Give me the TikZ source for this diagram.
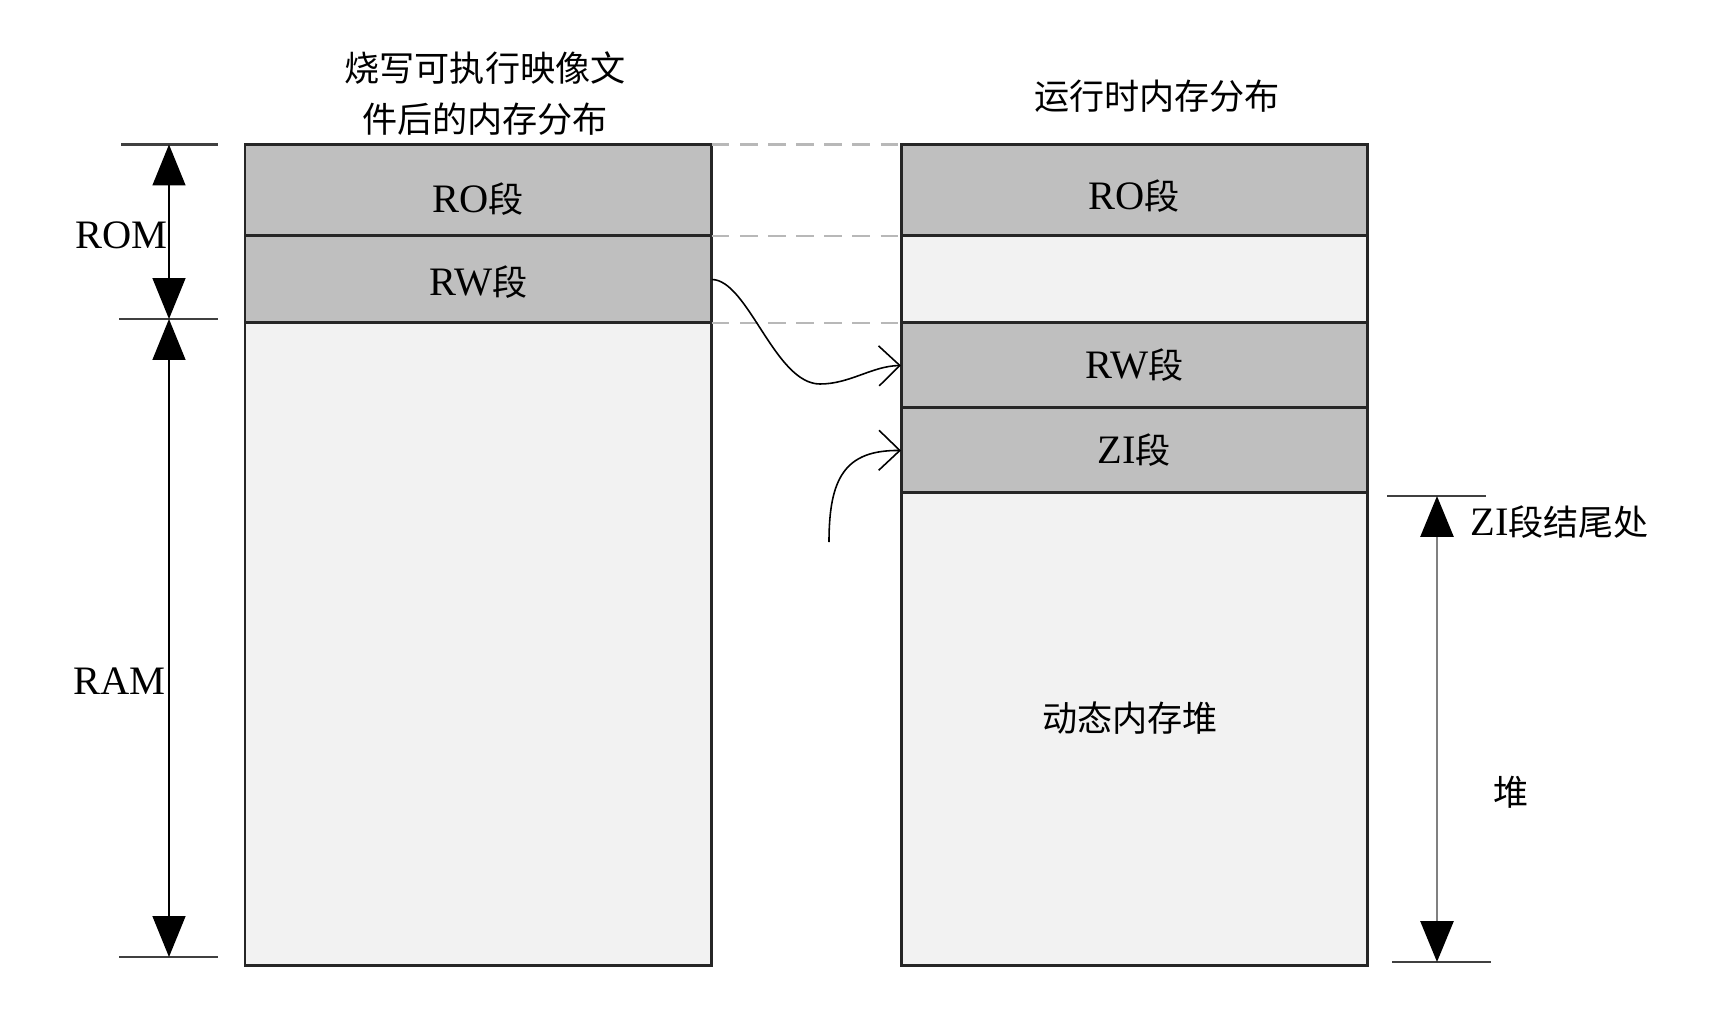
\documentclass[tikz,border=0pt]{standalone}
\usepackage{fontspec}
\setmainfont{Liberation Serif}
\newfontfamily\cjk{Noto Sans CJK SC}
\usetikzlibrary{arrows.meta}
\newcommand{\latinsz}{\fontsize{23}{26}\selectfont}
\newcommand{\cjksz}{\cjk\fontsize{20}{24}\selectfont}
\newcommand{\segtxt}[1]{{\latinsz #1}{\cjksz 段}}
\newcommand{\lowered}[2]{\raisebox{-#1}[\height][\depth]{#2}}
\begin{document}
\begin{tikzpicture}[x=0.02cm,y=-0.02cm,
  seg/.style={draw=black!85, line width=1.7pt, inner sep=0pt, outer sep=0pt,
    anchor=north west, minimum width=9.34cm},
  darkseg/.style={seg, fill=black!25},
  lightseg/.style={seg, fill=black!5},
  dashline/.style={draw=black!28, dashed, dash pattern=on 10pt off 6pt, line width=1.2pt},
  tickline/.style={draw=black!75, line width=1.6pt},
  dimarrow/.style={line width=0.9pt, {Triangle[length=0.82cm,width=0.66cm,black]}-{Triangle[length=0.82cm,width=0.66cm,black]}},
  curvearrow/.style={line width=0.9pt, -{Straight Barb[length=0.42cm,width=0.8cm]}},
  cjktext/.style={font=\cjksz, inner sep=0pt},
  latintext/.style={font=\latinsz, inner sep=0pt}
]
\useasboundingbox (0,0) rectangle (1729,1034);

% left column
\node[darkseg, minimum height=1.83cm] (lro) at (245,144.5) {\lowered{0.17cm}{\segtxt{RO}}};
\node[darkseg, minimum height=1.74cm] (lrw) at (245,236) {\lowered{0.05cm}{\segtxt{RW}}};
\node[lightseg, minimum height=12.86cm] (lram) at (245,323) {};

% right column
\node[darkseg, minimum height=1.83cm] (rro) at (901,144.5) {\lowered{0.11cm}{\segtxt{RO}}};
\node[lightseg, minimum height=1.74cm] (rgap) at (901,236) {};
\node[darkseg, minimum height=1.70cm] (rrw) at (901,323) {\segtxt{RW}};
\node[darkseg, minimum height=1.70cm] (rzi) at (901,408) {\segtxt{ZI}};
\node[lightseg, minimum height=9.46cm] (rheap) at (901,493) {};
\node[cjktext] (heaplbl) at (1130,718) {动态内存堆};

% titles
\node[cjktext] (title1a) at (485,68) {烧写可执行映像文};
\node[cjktext] (title1b) at (485,119) {件后的内存分布};
\node[cjktext] (title2) at (1157,96) {运行时内存分布};

% dashed guides
\draw[dashline] (lro.north east) -- (rro.north west);
\draw[dashline] (lrw.north east) -- (rgap.north west);
\draw[dashline] (lram.north east) -- (rrw.north west);

% curved arrows
\draw[curvearrow] (lrw.east) .. controls (748,280) and (775,384) .. (820,384)
  .. controls (850,384) and (872,366) .. (rrw.west);
\coordinate (zisrc) at (829,542);
\draw[curvearrow] (zisrc) .. controls (829,478) and (845,450) .. (rzi.west);

% left dimension
\coordinate (lt1a) at (121,144.5); \coordinate (lt1b) at (218,144.5);
\coordinate (lt2a) at (119,319);   \coordinate (lt2b) at (218,319);
\coordinate (lt3a) at (119,957);   \coordinate (lt3b) at (218,957);
\draw[tickline] (lt1a) -- (lt1b);
\draw[tickline] (lt2a) -- (lt2b);
\draw[tickline] (lt3a) -- (lt3b);
\coordinate (ld1) at (169,144.5);
\coordinate (ld2) at (169,319);
\coordinate (ld3) at (169,957);
\draw[dimarrow] (ld1) -- (ld2);
\draw[dimarrow] (ld2) -- (ld3);
\node[latintext, anchor=east] (romlbl) at (168,235) {ROM};
\node[latintext, anchor=east] (ramlbl) at (166,681) {RAM};

% right dimension
\coordinate (rt1a) at (1387,496); \coordinate (rt1b) at (1486,496);
\coordinate (rt2a) at (1392,962); \coordinate (rt2b) at (1491,962);
\draw[tickline] (rt1a) -- (rt1b);
\draw[tickline] (rt2a) -- (rt2b);
\coordinate (rd1) at (1437,496);
\coordinate (rd2) at (1437,962);
\draw[dimarrow, draw=black!50, line width=1.6pt] (rd1) -- (rd2);
\node[inner sep=0pt, anchor=west] (zilbl) at (1470,522) {{\latinsz ZI}{\cjksz 段结尾处}};
\node[cjktext] (heapdim) at (1511,792) {堆};
\end{tikzpicture}
\end{document}
